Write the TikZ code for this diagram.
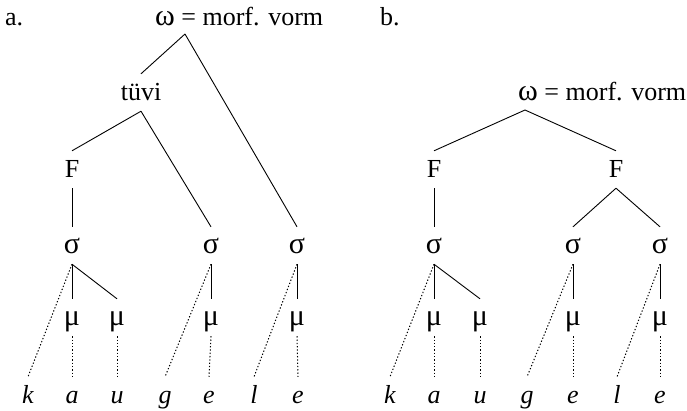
\documentclass[tikz,border=0pt]{standalone}
\usepackage{fontspec}
\setmainfont{Liberation Serif}
\newcommand{\grk}[1]{{\fontsize{30}{34}\selectfont #1}}
\begin{document}
\begin{tikzpicture}[x=1pt,y=-1pt,
  lab/.style={inner sep=0pt, anchor=base, font=\fontsize{26}{30}\selectfont},
  nd/.style={lab, text height=23pt, text depth=8pt, inner ysep=3pt, inner xsep=2pt},
  lt/.style={nd, font=\fontsize{26}{30}\selectfont\itshape},
  seg/.style={draw=black, line width=0.9pt},
  dotl/.style={draw=black, line width=1pt, dash pattern=on 1.3pt off 2pt},
  ]
\useasboundingbox (0,0) rectangle (687,410);
% ---- a ----
\node[lab, anchor=base west] (la) at (5,25) {a.};
\node[lab, anchor=base west] (wA) at (155,25) {\grk{ω} = morf. vorm};
\coordinate (wAv) at (185,34);
\node[nd] (tv) at (141,100) {tüvi};
\node[nd] (FA) at (72,177) {F};
\node[nd] (sA1) at (72,253) {\grk{σ}};
\node[nd] (sA2) at (211,253) {\grk{σ}};
\node[nd] (sA3) at (297,253) {\grk{σ}};
\node[nd] (mA1) at (72,325) {\grk{μ}};
\node[nd] (mA2) at (117,325) {\grk{μ}};
\node[nd] (mA3) at (211,325) {\grk{μ}};
\node[nd] (mA4) at (297,325) {\grk{μ}};
\node[lt] (kA) at (28,403) {k};
\node[lt] (aA) at (72,403) {a};
\node[lt] (uA) at (117,403) {u};
\node[lt] (gA) at (165,403) {g};
\node[lt] (eA1) at (209,403) {e};
\node[lt] (lA) at (254,403) {l};
\node[lt] (eA2) at (298,403) {e};
\draw[seg] (wAv) -- (tv.north);
\draw[seg] (wAv) -- (sA3.north);
\draw[seg] (tv.south) -- (FA.north);
\draw[seg] (tv.south) -- (sA2.north);
\draw[seg] (FA.south) -- (sA1.north);
\draw[seg] (sA1.south) -- (mA1.north);
\draw[seg] (sA1.south) -- (mA2.north);
\draw[seg] (sA2.south) -- (mA3.north);
\draw[seg] (sA3.south) -- (mA4.north);
\draw[dotl] (sA1.south) -- (kA.north);
\draw[dotl] (sA2.south) -- (gA.north);
\draw[dotl] (sA3.south) -- (lA.north);
\draw[dotl] (mA1.south) -- (aA.north);
\draw[dotl] (mA2.south) -- (uA.north);
\draw[dotl] (mA3.south) -- (eA1.north);
\draw[dotl] (mA4.south) -- (eA2.north);
% ---- b ----
\node[lab, anchor=base west] (lb) at (380,25) {b.};
\node[lab, anchor=base west] (wB) at (518,100) {\grk{ω} = morf. vorm};
\coordinate (wBv) at (525,110);
\node[nd] (FB1) at (434,177) {F};
\node[nd] (FB2) at (616,177) {F};
\node[nd] (sB1) at (434,253) {\grk{σ}};
\node[nd] (sB2) at (573,253) {\grk{σ}};
\node[nd] (sB3) at (660,253) {\grk{σ}};
\node[nd] (mB1) at (434,325) {\grk{μ}};
\node[nd] (mB2) at (480,325) {\grk{μ}};
\node[nd] (mB3) at (573,325) {\grk{μ}};
\node[nd] (mB4) at (660,325) {\grk{μ}};
\node[lt] (kB) at (390,403) {k};
\node[lt] (aB) at (434,403) {a};
\node[lt] (uB) at (480,403) {u};
\node[lt] (gB) at (527,403) {g};
\node[lt] (eB1) at (573,403) {e};
\node[lt] (lB) at (617,403) {l};
\node[lt] (eB2) at (660,403) {e};
\draw[seg] (wBv) -- (FB1.north);
\draw[seg] (wBv) -- (FB2.north);
\draw[seg] (FB1.south) -- (sB1.north);
\draw[seg] (FB2.south) -- (sB2.north);
\draw[seg] (FB2.south) -- (sB3.north);
\draw[seg] (sB1.south) -- (mB1.north);
\draw[seg] (sB1.south) -- (mB2.north);
\draw[seg] (sB2.south) -- (mB3.north);
\draw[seg] (sB3.south) -- (mB4.north);
\draw[dotl] (sB1.south) -- (kB.north);
\draw[dotl] (sB2.south) -- (gB.north);
\draw[dotl] (sB3.south) -- (lB.north);
\draw[dotl] (mB1.south) -- (aB.north);
\draw[dotl] (mB2.south) -- (uB.north);
\draw[dotl] (mB3.south) -- (eB1.north);
\draw[dotl] (mB4.south) -- (eB2.north);
\end{tikzpicture}
\end{document}
